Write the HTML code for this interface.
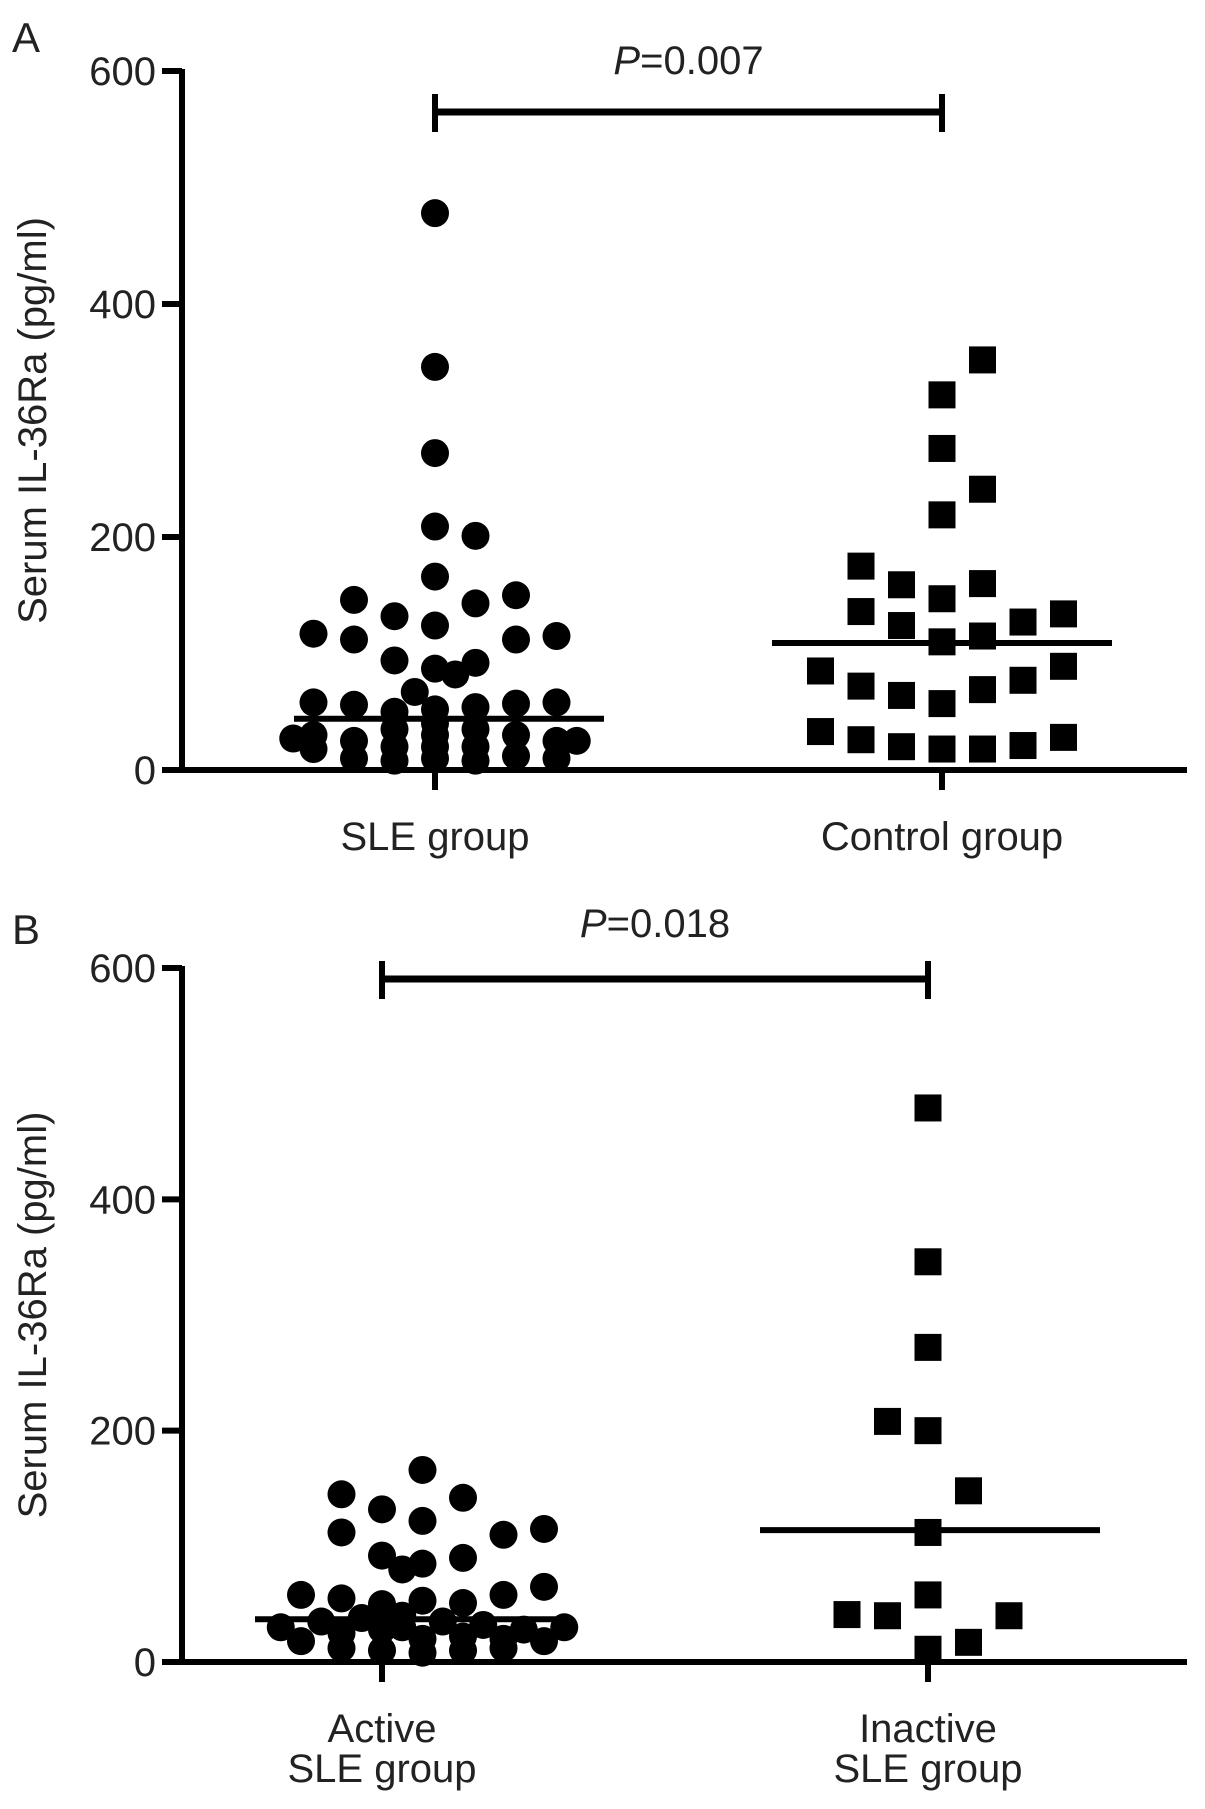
<!DOCTYPE html>
<html><head><meta charset="utf-8"><style>
html,body{margin:0;padding:0;background:#fff}
svg{display:block;font-family:"Liberation Sans",Arial,sans-serif}
</style></head><body>
<svg id="chart" width="1205" height="1809" viewBox="0 0 1205 1809" xmlns="http://www.w3.org/2000/svg"></svg>
<script>
// Panel A data (slot = horizontal jitter slot, value = pg/ml)
const aCategories = ["SLE group", "Control group"];
const aSleValues = [478,346,272,209,201,166,146,150,132,143,117,112,115,112,124,94,92,87,82,67,
  58,30,18, 56,25,10, 50,35,20,8, 52,40,30,20,10, 54,35,20,8, 57,30,12, 58,25,10, 27,25];
const aSleSlots = [0,0,0,0,1,0,-2,2,-1,1,-3,-2,3,2,0,-1,1,0,0.5,-0.5,
  -3,-3,-3, -2,-2,-2, -1,-1,-1,-1, 0,0,0,0,0, 1,1,1,1, 2,2,2, 3,3,3, -3.5,3.5];
const aCtrlValues = [352,322,276,241,219,175,159,160,147,136,134,124,127,110,115,85,89,72,77,64,69,57,33,26,20,18,18,21,28];
const aCtrlSlots = [1,0,0,1,0,-2,-1,1,0,-2,3,-1,2,0,1,-3,3,-2,2,-1,1,0,-3,-2,-1,0,1,2,3];
const aMedians = [44, 109];
const aPText = "0.007";
// Panel B data
const bCategories = [["Active","SLE group"],["Inactive","SLE group"]];
const bActiveValues = [145,132,122,142,166,110,115,112,92,85,80,90,65,58,55,50,53,51,58,
  30,18,35,25,12,38,28,10,40,30,20,8,35,22,10,32,20,12,28,18,30];
const bActiveSlots = [-1,0,1,2,1,3,4,-1,0,1,0.5,2,4,-2,-1,0,1,2,3,
  -2.5,-2,-1.5,-1,-1,-0.5,0,0,0.5,0.5,1,1,1.5,2,2,2.5,3,3,3.5,4,4.5];
const bInactValues = [479,346,272,208,200,148,112,58,41,40,40,11,17];
const bInactSlots = [0,0,0,-1,0,1,0,0,-2,-1,2,0,1];
const bMedians = [37, 114];
const bPText = "0.018";
const yTicks = [0,200,400,600];

const svg = document.getElementById('chart');
const NS = "http://www.w3.org/2000/svg";
function mk(tag, attrs, parent){
  const e = document.createElementNS(NS, tag);
  for (const k in attrs) e.setAttribute(k, attrs[k]);
  (parent||svg).appendChild(e); return e;
}
function panel(cfg){
  const g = mk('g', {});
  
  
  const y = v => cfg.y0 - (v/600)*(cfg.y0 - cfg.y600);
  const ax = 182, xEnd = 1187, sw = 6;
  const yl = mk('line', {x1:ax, y1:y(600)-2, x2:ax, y2:y(0), stroke:'#000','stroke-width':sw}, g);
   
  const xl = mk('line', {x1:ax-20, y1:y(0), x2:xEnd, y2:y(0), stroke:'#000','stroke-width':sw}, g);
   
  yTicks.forEach(t=>{
    const tk = mk('line',{x1:ax-20,y1:y(t),x2:ax,y2:y(t),stroke:'#000','stroke-width':sw},g);
     
    const tl = mk('text',{x:ax-26,y:y(t)+14,'font-size':40,'text-anchor':'end',fill:'#222'},g);
    tl.textContent = t;
     
  });
  cfg.cx.forEach((cx,i)=>{
    const tk = mk('line',{x1:cx,y1:y(0),x2:cx,y2:y(0)+20,stroke:'#000','stroke-width':sw},g);
     
    const lines = Array.isArray(cfg.cats[i]) ? cfg.cats[i] : [cfg.cats[i]];
    lines.forEach((s,j)=>{
      const tl = mk('text',{x:cx,y:cfg.labY + j*40,'font-size':40,'text-anchor':'middle',fill:'#222'},g);
      tl.textContent = s;
       
    });
  });
  const yt = mk('text',{x:0,y:0,'font-size':40,'text-anchor':'middle',fill:'#222',
    transform:`translate(46,${(y(0)+y(600))/2}) rotate(-90)`},g);
  yt.textContent = 'Serum IL-36Ra (pg/ml)';
   
  const pl = mk('text',{x:12,y:cfg.letterY,'font-size':42,fill:'#222'},g);
  pl.textContent = cfg.letter;
   
  const slot = 40.5;
  cfg.s1v.forEach((v,i)=>{
    const c = mk('circle',{cx:cfg.cx[0]+cfg.s1s[i]*slot, cy:y(v), r:14, fill:'#000'},g);
     
  });
  cfg.s2v.forEach((v,i)=>{
    const r = mk('rect',{x:cfg.cx[1]+cfg.s2s[i]*slot-13.5, y:y(v)-13.5, width:27, height:27, fill:'#000'},g);
     
  });
  cfg.med.forEach((m,i)=>{
    const c = cfg.mc[i];
    const ml = mk('line',{x1:c-cfg.mw[i], x2:c+cfg.mw[i], y1:y(m), y2:y(m), stroke:'#000','stroke-width':sw},g);
     
  });
  const bg = mk('g',{},g);
   
  mk('line',{x1:cfg.cx[0],x2:cfg.cx[1],y1:cfg.brY,y2:cfg.brY,stroke:'#000','stroke-width':7},bg);
  mk('line',{x1:cfg.cx[0],x2:cfg.cx[0],y1:cfg.brY-18,y2:cfg.brY+20,stroke:'#000','stroke-width':6},bg);
  mk('line',{x1:cfg.cx[1],x2:cfg.cx[1],y1:cfg.brY-18,y2:cfg.brY+20,stroke:'#000','stroke-width':6},bg);
  const pt = mk('text',{x:(cfg.cx[0]+cfg.cx[1])/2,y:cfg.pY,'font-size':40,'text-anchor':'middle',fill:'#222'},g);
  pt.innerHTML = '<tspan font-style="italic">P</tspan>=' + cfg.p;
   
}
panel({name:'panel-a', letter:'A', letterY:52, y0:770, y600:71, cx:[435,942], cats:aCategories,
  labY:850, s1v:aSleValues, s1s:aSleSlots, s2v:aCtrlValues, s2s:aCtrlSlots, med:aMedians, mc:[449,942], mw:[155,170],
  brY:112, pY:74, p:aPText});
panel({name:'panel-b', letter:'B', letterY:944, y0:1662, y600:968, cx:[382,928], cats:bCategories,
  labY:1742, s1v:bActiveValues, s1s:bActiveSlots, s2v:bInactValues, s2s:bInactSlots, med:bMedians, mc:[410,930], mw:[155,170],
  brY:979, pY:937, p:bPText});
</script>
</body></html>
